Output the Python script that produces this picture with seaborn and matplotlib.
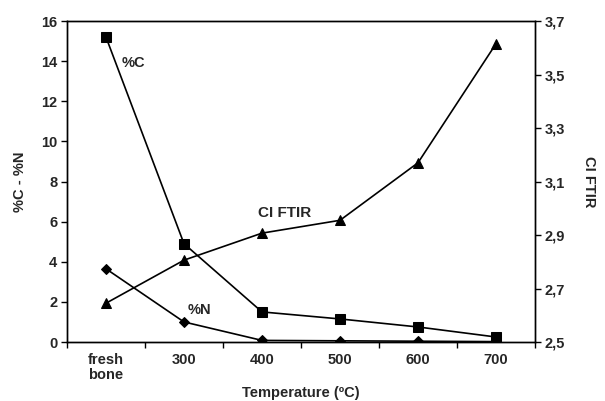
import matplotlib
matplotlib.use("Agg")
from matplotlib import pyplot as plt
import numpy as np
import pandas as pd
import seaborn as sns

# data
categories = ["fresh\nbone", "300", "400", "500", "600", "700"]
pct_c = [15.2, 4.9, 1.5, 1.15, 0.75, 0.25]
pct_n = [3.65, 1.0, 0.08, 0.06, 0.04, 0.02]
ci_ftir = [2.645, 2.806, 2.907, 2.955, 3.17, 3.615]
left_ticks = [0, 2, 4, 6, 8, 10, 12, 14, 16]
right_ticks = [2.5, 2.7, 2.9, 3.1, 3.3, 3.5, 3.7]

df = pd.DataFrame({"pos": np.arange(len(categories)), "C": pct_c, "N": pct_n, "CI": ci_ftir})

sns.set_style("white")
plt.rcParams["font.family"] = ["Liberation Sans", "DejaVu Sans"]
plt.rcParams["font.weight"] = "bold"

fig = plt.figure(figsize=(6.05, 4.01), dpi=100)
ax = fig.add_axes([0.1107, 0.1471, 0.7736, 0.8005])
ax2 = ax.twinx()

lw = 1.2
sns.lineplot(data=df, x="pos", y="C", ax=ax, color="black", marker="s",
             markersize=7, linewidth=lw, markeredgecolor="black")
sns.lineplot(data=df, x="pos", y="N", ax=ax, color="black", marker="D",
             markersize=5.5, linewidth=lw, markeredgecolor="black")
sns.lineplot(data=df, x="pos", y="CI", ax=ax2, color="black", marker="^",
             markersize=7.5, linewidth=lw, markeredgecolor="black")

ax.set_xlim(-0.5, len(categories) - 0.5)
ax.set_ylim(0, 16)
ax2.set_ylim(2.5, 3.7)

fs = 10.5
ax.set_yticks(left_ticks)
ax.set_yticklabels([str(t) for t in left_ticks], fontsize=fs, fontweight="bold")
ax2.set_yticks(right_ticks)
ax2.set_yticklabels([f"{t:.1f}".replace(".", ",") for t in right_ticks], fontsize=fs, fontweight="bold")

# category boundaries get ticks, labels sit at centers
ax.set_xticks(np.arange(-0.5, len(categories), 1.0))
ax.set_xticklabels([])
ax.set_xticks(np.arange(len(categories)), minor=True)
ax.set_xticklabels(categories, minor=True, fontsize=fs, fontweight="bold", linespacing=1.1)
ax.tick_params(axis="x", which="minor", length=0, pad=8)
ax.tick_params(axis="x", which="major", direction="out", length=4, width=1, color="black", bottom=True)
ax.tick_params(axis="y", direction="out", length=4, width=1, color="black", left=True, pad=3)
ax2.tick_params(axis="y", direction="out", length=4, width=1, color="black", right=True, pad=3)

for a in (ax, ax2):
    for s in a.spines.values():
        s.set_color("black")
        s.set_linewidth(1.0)

ax.set_xlabel("Temperature (ºC)", fontsize=fs, fontweight="bold", labelpad=3)
ax.set_ylabel("%C - %N", fontsize=fs, fontweight="bold", labelpad=10)
ax2.set_ylabel("CI FTIR", fontsize=fs, fontweight="bold", rotation=270, labelpad=22)

ax.text(0.2, 13.9, "%C", fontsize=fs, fontweight="bold", va="center")
ax.text(1.95, 6.45, "CI FTIR", fontsize=11, fontweight="bold", va="center")
ax.text(1.05, 1.6, "%N", fontsize=fs, fontweight="bold", va="center")

fig.savefig("out.png", dpi=100, facecolor="white")
